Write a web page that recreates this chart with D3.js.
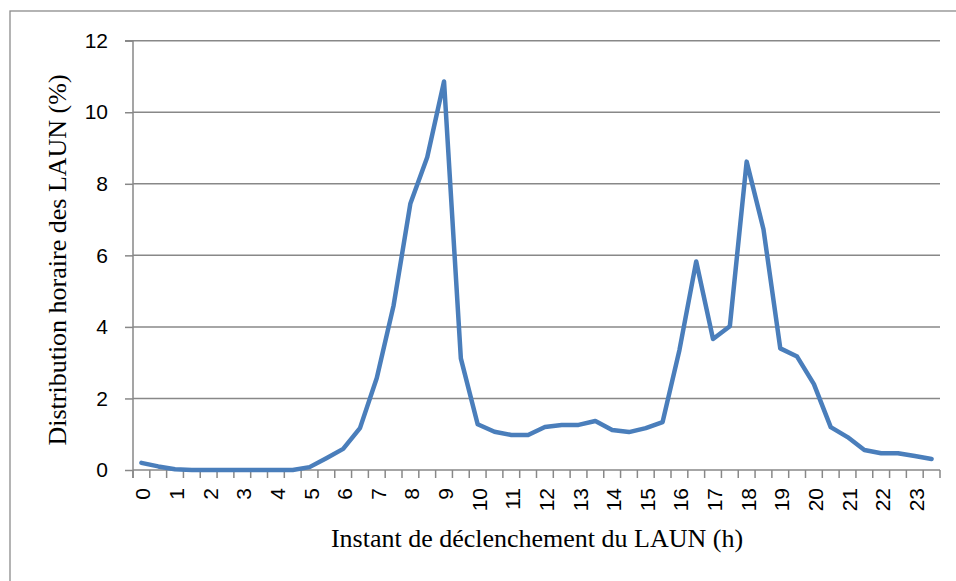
<!DOCTYPE html>
<html><head><meta charset="utf-8">
<script src="https://cdn.jsdelivr.net/npm/d3@7"></script>
<style>
body{margin:0;background:#fff;}
svg{display:block;}
</style></head>
<body>
<svg id="chart" width="956" height="581"></svg>
<script>
// Half-hour categories 0, 0.5, ..., 23.5
const hours = d3.range(48).map(i => i / 2);
const tickLabels = d3.range(24).map(String);
const values = [
  0.20, 0.10, 0.02, 0.00, 0.00, 0.00, 0.00, 0.00, 0.00, 0.00,
  0.08, 0.33, 0.59, 1.17, 2.57, 4.60, 7.45, 8.74, 10.86, 3.12,
  1.28, 1.07, 0.98, 0.98, 1.20, 1.26, 1.26, 1.37, 1.12, 1.06,
  1.17, 1.34, 3.35, 5.83, 3.66, 4.02, 8.62, 6.73, 3.40, 3.17,
  2.40, 1.20, 0.92, 0.56, 0.47, 0.47, 0.39, 0.31
];
const yTicks = [0, 2, 4, 6, 8, 10, 12];
const xTitle = "Instant de déclenchement du LAUN (h)";
const yTitle = "Distribution horaire des LAUN (%)";

const svg = d3.select("#chart");
const mLeft = 133, mRight = 940, mTop = 40.7, mBottom = 470;
const tickFont = "'Liberation Sans', Arial, sans-serif";
const titleFont = "'Liberation Serif', 'Times New Roman', serif";

// outer frame
svg.append("rect").attr("x", 10).attr("y", 11).attr("width", 960).attr("height", 600)
  .attr("fill", "none").attr("stroke", "#8c8c8c").attr("stroke-width", 1.3);

const x = d3.scaleBand().domain(hours).range([mLeft, mRight]).paddingInner(0).paddingOuter(0);
const y = d3.scaleLinear().domain([0, 12]).range([mBottom, mTop]);

// gridlines
svg.append("g").selectAll("line").data(yTicks.filter(d => d > 0)).join("line")
  .attr("x1", mLeft).attr("x2", mRight)
  .attr("y1", d => y(d)).attr("y2", d => y(d))
  .attr("stroke", "#888").attr("stroke-width", 1.5);

// y axis
const yAxis = d3.axisLeft(y).tickValues(yTicks).tickSize(8).tickPadding(17);
const gy = svg.append("g").attr("transform", `translate(${mLeft},0)`).call(yAxis);
gy.attr("font-size", null).attr("font-family", null);
gy.select(".domain").attr("stroke", "#888").attr("stroke-width", 1.5)
  .attr("d", `M-8,${y(12)}H0V${mBottom + 8}`);
gy.selectAll(".tick line").attr("stroke", "#888").attr("stroke-width", 1.5);
gy.selectAll(".tick text").style("font-family", tickFont)
  .style("font-size", "21px").attr("fill", "#000");

// x axis: ticks at every category boundary
const boundaries = d3.range(49).map(i => mLeft + i * x.bandwidth());
const gx = svg.append("g");
gx.append("line").attr("x1", mLeft).attr("x2", mRight).attr("y1", mBottom).attr("y2", mBottom)
  .attr("stroke", "#888").attr("stroke-width", 1.5);
gx.selectAll("line.tk").data(boundaries).join("line").attr("class", "tk")
  .attr("x1", d => d).attr("x2", d => d).attr("y1", mBottom).attr("y2", mBottom + 8)
  .attr("stroke", "#888").attr("stroke-width", 1.5);
gx.selectAll("text").data(tickLabels).join("text")
  .attr("transform", (d, i) => `translate(${x(hours[i * 2]) + x.bandwidth() / 2 + 9},${mBottom + 18}) rotate(-90)`)
  .attr("text-anchor", "end")
  .style("font-family", tickFont)
  .style("font-size", "21px").attr("fill", "#000")
  .text(d => d);

// line
const line = d3.line().x((d, i) => x(hours[i]) + x.bandwidth() / 2).y(d => y(d));
svg.append("path").datum(values).attr("d", line)
  .attr("fill", "none").attr("stroke", "#4a7ebb").attr("stroke-width", 4.5)
  .attr("stroke-linejoin", "round").attr("stroke-linecap", "round");

// titles
svg.append("text").attr("x", 537).attr("y", 547).attr("text-anchor", "middle")
  .style("font-family", titleFont).style("font-size", "26px")
  .attr("fill", "#000").text(xTitle);
svg.append("text").attr("transform", `translate(66,260) rotate(-90)`).attr("text-anchor", "middle")
  .style("font-family", titleFont).style("font-size", "26px")
  .attr("fill", "#000").text(yTitle);
</script>
</body></html>
